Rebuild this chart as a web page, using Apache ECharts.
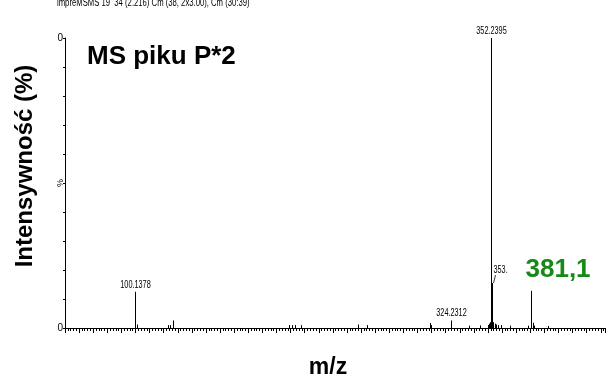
<!DOCTYPE html>
<html>
<head>
<meta charset="utf-8">
<script src="https://cdn.jsdelivr.net/npm/echarts@6/dist/echarts.min.js"></script>
<style>
  html, body { margin: 0; padding: 0; background: #fff; overflow: hidden; }
  #chart { width: 609px; height: 376px; }
</style>
</head>
<body>
<div id="chart"></div>
<script>
// Centroided MS spectrum: m/z positions and relative intensities (%)
const peakMz = [
  100.1378, 101.1, 123.1, 125.0, 127.1, 209.0, 211.1, 213.3, 217.5,
  258.3, 264.4, 309.0, 310.1, 324.2312, 336.9, 344.5, 350.1, 350.8,
  351.5, 352.2395, 353.2, 354.2, 355.2, 356.2, 357.6, 359.8, 366.2,
  378.7, 381.1, 382.1, 383.0, 393.0
];
const peakIntensity = [
  12.5, 1.2, 1.0, 1.0, 2.6, 1.0, 1.0, 1.0, 1.0,
  1.2, 1.0, 1.7, 1.0, 2.6, 0.8, 0.9, 1.0, 1.5,
  2.0, 100, 15.5, 2.0, 1.5, 1.2, 1.0, 1.0, 0.8,
  0.8, 12.8, 1.8, 0.8, 0.7
];

// Peaks that carry a text annotation and the text shown for them
const labelledMz = [100.1378, 324.2312, 352.2395, 353.2, 381.1];
const labelText = ['100.1378', '324.2312', '352.2395', '353.', '381,1'];

// Axis ranges and the few tick labels that are printed
const mzMin = 50, mzMax = 433, mzStep = 10;
const yTickLabels = { 0: '0', 100: '0' };

const sans = '"Liberation Sans", Arial, sans-serif';
const squeeze = 0.73; // horizontal compression for the small instrument-style text

const stickData = peakMz.map((m, i) => [m, peakIntensity[i]]);
const labelData = labelledMz.map((m, i) => [m, peakIntensity[peakMz.indexOf(m)], i]);

const chart = echarts.init(document.getElementById('chart'), null, { renderer: 'canvas' });

function crisp(x) { return Math.round(x - 0.5) + 0.5; }

function smallText(text, x, y, align) {
  return {
    type: 'text', x, y, scaleX: squeeze, scaleY: 1,
    style: { text, x: 0, y: 0, textAlign: align, textVerticalAlign: 'bottom',
             font: '10px ' + sans, fill: '#000' }
  };
}

chart.setOption({
  animation: false,
  backgroundColor: '#fff',
  grid: { left: 65, width: 540, top: 38, height: 290 },
  xAxis: {
    type: 'value', min: mzMin, max: mzMax, interval: mzStep,
    axisLine: { lineStyle: { color: '#000', width: 1 } },
    axisTick: { show: true, length: 5, lineStyle: { color: '#000' } },
    minorTick: { show: true, splitNumber: 5, length: 3, lineStyle: { color: '#000' } },
    axisLabel: { show: false },
    splitLine: { show: false }
  },
  yAxis: {
    type: 'value', min: 0, max: 100, interval: 10,
    axisLine: { show: true, lineStyle: { color: '#000', width: 1 } },
    axisTick: { show: true, length: 2, lineStyle: { color: '#000' } },
    axisLabel: {
      formatter: v => yTickLabels[v] || '',
      fontFamily: sans, fontSize: 10, color: '#000', margin: 2
    },
    splitLine: { show: false }
  },
  series: [
    {
      name: 'sticks', type: 'custom', data: stickData, clip: false,
      renderItem: (params, api) => {
        const base = api.coord([api.value(0), 0]);
        const top = api.coord([api.value(0), api.value(1)]);
        const x = crisp(base[0]);
        return {
          type: 'line',
          shape: { x1: x, y1: base[1], x2: x, y2: top[1] },
          style: { stroke: '#000', lineWidth: 1 }
        };
      }
    },
    {
      name: 'annotations', type: 'custom', data: labelData, clip: false,
      renderItem: (params, api) => {
        const top = api.coord([api.value(0), api.value(1)]);
        const text = labelText[api.value(2)];
        const x = crisp(top[0]);
        if (text === '381,1') {
          return {
            type: 'text',
            style: {
              text, x: x - 6, y: top[1] - 8, textAlign: 'left', textVerticalAlign: 'bottom',
              font: 'bold 26px ' + sans, fill: '#168a16'
            }
          };
        }
        if (text === '353.') {
          return {
            type: 'group',
            children: [
              { type: 'line', shape: { x1: x + 1, y1: top[1], x2: x + 3, y2: top[1] - 8 },
                style: { stroke: '#000', lineWidth: 0.8 } },
              smallText(text, x + 1, top[1] - 8, 'left')
            ]
          };
        }
        return smallText(text, x, top[1] - 2, 'center');
      }
    }
  ]
});

// Rotated percent sign at mid-scale, axis titles, header line and the panel title
const mid = chart.convertToPixel({ yAxisIndex: 0 }, 50);
chart.setOption({
  graphic: [
    {
      type: 'text', x: 61, y: mid, rotation: Math.PI / 2,
      style: { text: '%', font: '9px ' + sans, fill: '#000', textAlign: 'center', textVerticalAlign: 'middle' }
    },
    {
      type: 'text', x: 57, y: -2, scaleX: 0.77,
      style: { text: 'lmpreMSMS 19  34 (2.216) Cm (38, 2x3.00), Cm (30:39)', font: '10px ' + sans, fill: '#000' }
    },
    {
      type: 'text', x: 87, y: 44,
      style: { text: 'MS piku P*2', font: 'bold 26px ' + sans, fill: '#000' }
    },
    {
      type: 'text', x: 25, y: 166, rotation: Math.PI / 2,
      style: { text: 'Intensywność (%)', font: 'bold 24px ' + sans, fill: '#000',
               textAlign: 'center', textVerticalAlign: 'middle' }
    },
    {
      type: 'text', x: 328, y: 368,
      style: { text: 'm/z', font: 'bold 23px ' + sans, fill: '#000',
               textAlign: 'center', textVerticalAlign: 'middle' }
    }
  ]
});
</script>
</body>
</html>
